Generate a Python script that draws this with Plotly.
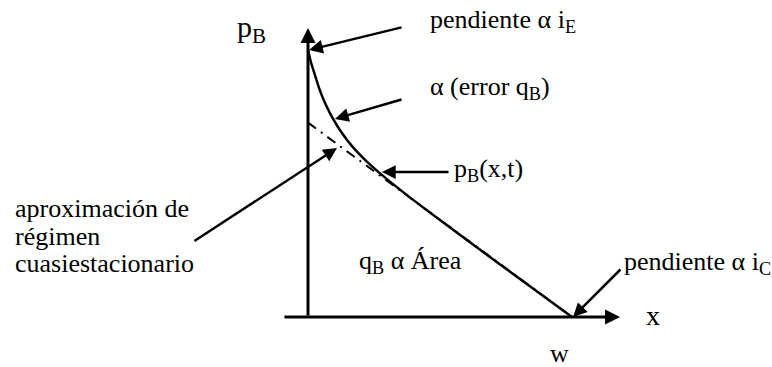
import plotly.graph_objects as go

# Transient pressure profile p_B(x, t) across the base (x from 0 to w)
x_curve = [0.0, 0.011, 0.027, 0.045, 0.068, 0.095, 0.129, 0.170, 0.223,
           0.292, 0.386, 0.500, 0.652, 0.803, 1.000]
p_curve = [1.000, 0.955, 0.904, 0.849, 0.794, 0.742, 0.688, 0.636, 0.582,
           0.522, 0.448, 0.363, 0.252, 0.142, 0.000]

# Quasi-stationary (linear) approximation
x_quasi = [0.0, 1.0]
p_quasi = [0.728, 0.0]

FONT = "Liberation Serif"
BLACK = "black"

fig = go.Figure()

fig.add_trace(go.Scatter(
    x=x_quasi, y=p_quasi, mode="lines",
    line=dict(color=BLACK, width=2, dash="10px,6px,2px,6px"),
    hoverinfo="skip", showlegend=False,
))
fig.add_trace(go.Scatter(
    x=x_curve, y=p_curve, mode="lines", line_shape="spline",
    line=dict(color=BLACK, width=2.5),
    hoverinfo="skip", showlegend=False,
))


def arrow(tail, tip, width=2.5, size=1.1):
    fig.add_annotation(
        x=tip[0], y=tip[1], ax=tail[0], ay=tail[1],
        xref="x", yref="y", axref="x", ayref="y",
        text="", showarrow=True, arrowhead=2, arrowsize=size,
        arrowwidth=width, arrowcolor=BLACK, standoff=0, startstandoff=0,
    )


def label(x, y, text, size=26, xanchor="left"):
    fig.add_annotation(
        x=x, y=y, xref="x", yref="y", text=text, showarrow=False,
        xanchor=xanchor, yanchor="middle",
        font=dict(family=FONT, size=size, color=BLACK),
    )


# coordinate axes
arrow((0.0, 0.0), (0.0, 1.082), width=3, size=1.0)
arrow((-0.095, 0.0), (1.182, 0.0), width=3, size=1.0)

# pointers
arrow((0.360, 1.086), (0.004, 1.000))
arrow((0.360, 0.816), (0.102, 0.742))
arrow((0.538, 0.543), (0.280, 0.543))
arrow((-0.436, 0.281), (0.110, 0.633))
arrow((1.189, 0.1835), (1.004, 0.0))

# labels
label(-0.2765, 1.079, "p<sub>B</sub>", size=30)
label(0.4545, 1.108, "pendiente α i<sub>E</sub>")
label(0.4545, 0.858, "α (error q<sub>B</sub>)")
label(0.5455, 0.551, "p<sub>B</sub>(x,t)")
label(-1.1174, 0.408, "aproximación de")
label(-1.1174, 0.303, "régimen")
label(-1.1174, 0.202, "cuasiestacionario")
label(0.1856, 0.206, "q<sub>B</sub> α Área")
label(1.189, 0.203, "pendiente α i<sub>C</sub>")
label(1.307, 0.0075, "x", size=28, xanchor="center")
label(0.9545, -0.136, "w", size=26, xanchor="center")

fig.update_layout(
    width=772, height=367, autosize=False,
    margin=dict(l=0, r=0, t=0, b=0),
    paper_bgcolor="white", plot_bgcolor="white",
    xaxis=dict(range=[-1.16667, 1.75758], visible=False, fixedrange=True),
    yaxis=dict(range=[-0.18727, 1.18727], visible=False, fixedrange=True),
    showlegend=False,
)

fig.write_html("out.html")
